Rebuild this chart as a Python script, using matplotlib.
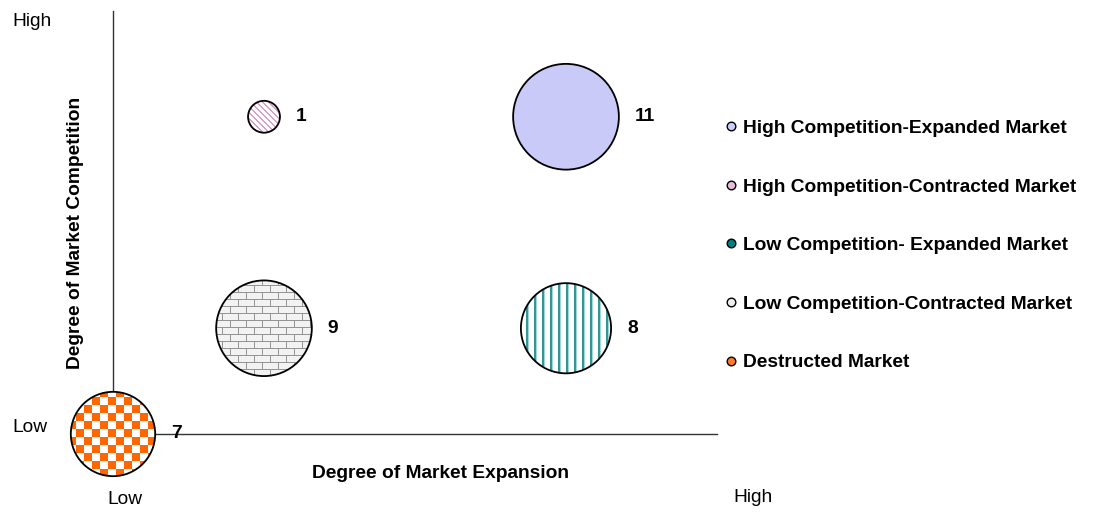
import numpy as np
import matplotlib
matplotlib.use("Agg")
import matplotlib.pyplot as plt
import matplotlib.colors as mcolors
from matplotlib.patches import Circle
from matplotlib.lines import Line2D
from matplotlib.transforms import ScaledTranslation

plt.rcParams['font.family'] = ['Liberation Sans', 'DejaVu Sans']

# ---- data ----
series_names = ["High Competition-Expanded Market",
                "High Competition-Contracted Market",
                "Low Competition- Expanded Market",
                "Low Competition-Contracted Market",
                "Destructed Market"]
x_vals = [3, 1, 3, 1, 0]          # Degree of Market Expansion
y_vals = [3, 3, 1, 1, 0]          # Degree of Market Competition
bubble_sizes = [11, 1, 8, 9, 7]
x_axis_title = "Degree of Market Expansion"
y_axis_title = "Degree of Market Competition"
x_range = [0, 4]
y_range = [0, 4]

# ---- styles ----
patterns = ["dots", "diag", "vstripe", "brick", "checker"]
legend_colors = ["#ccccff", "#e6bcd9", "#007f7f", "#eeeeee", "#ff7a2a"]

FS = 13.8
W, H, DPI = 1112, 512, 100
fig = plt.figure(figsize=(W / DPI, H / DPI), dpi=DPI)
ax_l, ax_b, ax_w, ax_h = 113, 78, 604, 423
ax = fig.add_axes([ax_l / W, ax_b / H, ax_w / W, ax_h / H])
ax.set_xlim(x_range)
ax.set_ylim(y_range)
for s in ["top", "right"]:
    ax.spines[s].set_visible(False)
for s in ["left", "bottom"]:
    ax.spines[s].set_color("#333333")
    ax.spines[s].set_linewidth(1.0)
ax.set_xticks([])
ax.set_yticks([])


def crgb(h):
    return np.array(mcolors.to_rgb(h))


def make_pattern(kind, n):
    i, j = np.mgrid[0:n, 0:n]
    img = np.ones((n, n, 3))
    if kind == "dots":
        img[:] = crgb("#cacaf8")
    elif kind == "diag":
        img[:] = crgb("#ffffff")
        img[(j - i) % 6 < 2] = crgb("#d8a0c8")
    elif kind == "vstripe":
        img[:] = crgb("#ffffff")
        img[j % 8 < 2] = crgb("#2f9999")
        img[j % 8 == 2] = crgb("#a6d3d3")
    elif kind == "brick":
        img[:] = crgb("#f2f2f2")
        row = i // 7
        img[i % 7 == 0] = crgb("#959595")
        vert = ((j + (row % 2) * 8) % 16 == 0)
        img[vert] = crgb("#959595")
    elif kind == "checker":
        img[:] = crgb("#ffffff")
        img[((i // 8) + (j // 8)) % 2 == 0] = crgb("#ff6600")
    return img


smax = max(bubble_sizes)
rmax_px = 0.125 * min(ax_w, ax_h)
dxp = (x_range[1] - x_range[0]) / ax_w
dyp = (y_range[1] - y_range[0]) / ax_h

for x, y, s, pat in zip(x_vals, y_vals, bubble_sizes, patterns):
    r_px = rmax_px * np.sqrt(s / smax)
    tr = fig.dpi_scale_trans + ScaledTranslation(x, y, ax.transData)
    clip = Circle((0, 0), r_px / DPI, transform=tr)
    n = int(2 * r_px + 6)
    img = make_pattern(pat, n)
    half = n / 2
    im = ax.imshow(img, extent=[x - half * dxp, x + half * dxp,
                                y - half * dyp, y + half * dyp],
                   interpolation="nearest", aspect="auto", zorder=3,
                   origin="upper")
    im.set_clip_box(fig.bbox)
    im.set_clip_path(clip)
    outline = Circle((0, 0), r_px / DPI, transform=tr, facecolor="none",
                     edgecolor="black", linewidth=1.3, zorder=4,
                     clip_on=False)
    ax.add_patch(outline)
    ax.annotate(str(s), (x, y), xytext=((r_px + 16) * 72 / DPI, 0),
                textcoords="offset points", ha="left", va="center",
                fontsize=FS, fontweight="bold", zorder=5,
                annotation_clip=False)

ax.set_xlim(x_range)
ax.set_ylim(y_range)

# axis titles
ax.set_xlabel(x_axis_title, fontsize=FS, fontweight="bold")
ax.xaxis.set_label_coords((441 - ax_l) / ax_w, (434 - 473) / ax_h)
ax.xaxis.label.set_va("center")
ax.set_ylabel(y_axis_title, fontsize=FS, fontweight="bold")
ax.yaxis.set_label_coords((75 - ax_l) / ax_w, (434 - 233) / ax_h)
ax.yaxis.label.set_va("center")

# Low / High end labels
def ftext(px, py, s, **kw):
    fig.text(px / W, 1 - py / H, s, fontsize=FS, va="center", ha="left", **kw)

ftext(12, 21, "High")
ftext(12, 427, "Low")
ftext(107, 500, "Low")
ftext(733, 498, "High")

# legend
handles = [Line2D([], [], marker="o", ls="", markersize=6.2,
                  markerfacecolor=c, markeredgecolor="black",
                  markeredgewidth=1.0) for c in legend_colors]
leg = fig.legend(handles, series_names, loc="upper left",
                 bbox_to_anchor=(725.5 / W, 1 - 119.5 / H),
                 frameon=False, prop={"size": FS, "weight": "bold"},
                 handlelength=0.6, handletextpad=0.3, labelspacing=2.15,
                 borderpad=0, borderaxespad=0)

fig.savefig("out.png", dpi=DPI)
